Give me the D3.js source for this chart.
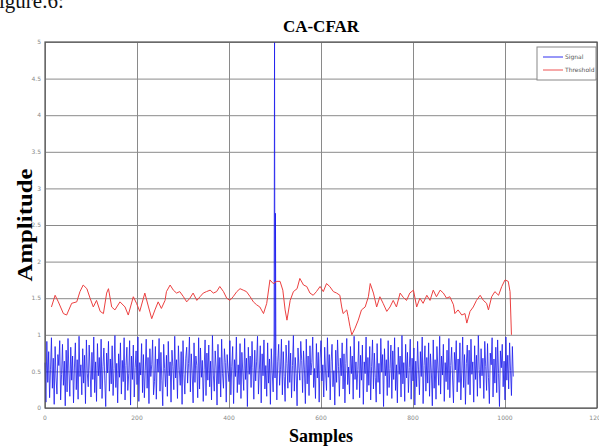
<!DOCTYPE html>
<html lang="en">
<head>
  <meta charset="UTF-8">
  <title>CA-CFAR</title>
  <style>
    html, body { margin: 0; padding: 0; background: #fff; overflow: hidden; }
    svg { display: block; }
  </style>
</head>
<body>

  <svg id="svg" width="599" height="448"></svg>

  <script src="https://d3js.org/d3.v7.min.js"></script>
  <script>
    // axis ticks
    const xTicks = [0, 200, 400, 600, 800, 1000, 1200]
    const xTickLabels = ['0', '200', '400', '600', '800', '1000', '1200']
    const yTicks = [0, 0.5, 1, 1.5, 2, 2.5, 3, 3.5, 4, 4.5, 5]
    const yTickLabels = ['0', '0.5', '1', '1.5', '2', '2.5', '3', '3.5', '4', '4.5', '5']

    // signal, one value every 2 samples
    const sampleStep = 2
    const signalValues = [
      .62,.08,.91,.35,.77,.14,.53,.96,.27,.68,.05,.84,.41,.19,.73,.58,.92,.11,.46,.87,
      .31,.64,.03,.79,.22,.95,.49,.16,.83,.38,.71,.07,.56,.89,.25,.66,.12,.98,.43,.59,
      .18,.81,.34,.72,.06,.93,.47,.29,.86,.52,.15,.76,.39,.97,.21,.63,.09,.88,.44,.69,
      .26,.94,.13,.57,.82,.37,.02,.75,.48,.91,.23,.67,.33,.85,.17,.54,.99,.28,.61,.07,
      .74,.42,.89,.19,.65,.36,.96,.11,.58,.83,.24,.47,.92,.04,.71,.39,.86,.15,.55,.78,
      .32,.97,.09,.62,.45,.88,.21,.73,.14,.51,.94,.27,.69,.06,.81,.43,.59,.93,.18,.36,
      .84,.12,.67,.49,.95,.23,.76,.38,.03,.87,.54,.29,.72,.16,.91,.44,.63,.08,.79,.57,
      .25,.98,.41,.66,.13,.85,.52,.31,.77,.05,.92,.46,.19,.68,.83,.34,.61,.97,.22,.74,
      .48,.07,.89,.35,.71,.58,.14,.96,.26,.82,.42,.65,.09,.53,.93,.17,.75,.38,.86,.29,
      .64,.11,.99,.45,.23,.78,.56,.04,.87,.33,.69,.15,.94,.47,.27,.81,.62,.08,.73,.51,
      .36,.92,.18,.57,.84,.06,.66,.43,.97,.21,.59,.32,.88,.13,.76,.49,.24,.95,.39,.68,
      .02,.83,.46,.71,.28,.91,.55,.12,.79,.37,.63,.98,.19,.52,.85,.07,.74,.44,.93,.26,
      .58,.16,.89,.34,.67,.05,.81,.48,.22,.96,.41,.72,.11,.64,.87,.31,.53,.94,.18,.77,
      .43,.09,.86,.61,.27,.92,.35,.75,.14,.58,.99,.23,.69,.47,.03,.82,.56,.38,.91,.65,
      .21,.78,.52,.06,.94,.33,.71,.17,.85,.45,.62,.97,.28,.54,.13,.88,.41,.76,.08,.67,
      .92,.37,.59,.15,.83,.49,.24,.96,.42,.73,.11,.64,.87,.29,.51,.04,.79,.35,.93,.57,
      .16,.68,.44,.89,.26,.74,.07,.61,.95,.32,.56,.19,.84,.47,.71,.12,.98,.39,.63,.25,
      .53,.91,.14,.72,.38,.86,.05,.63,.47,.97,.22,.69,.31,.84,.11,.57,.93,.26,.75,.42,
      .08,.88,.35,.61,.19,.95,.49,.73,.02,.81,.44,.66,.17,.92,.28,.54,.86,.13,.78,.39,
      .96,.24,.59,.07,.83,.46,.71,.15,.99,.33,.62,.09,.87,.41,.76,.21,.55,.94,.12,.68,
      .37,.82,.04,.64,.29,.91,.52,.18,.77,.43,.97,.06,.58,.85,.23,.69,.34,.89,.16,.74,
      .48,.03,.93,.27,.66,.12,.84,.56,.31,.98,.19,.71,.45,.87,.09,.62,.36,.79,.25,.95,
      .14,.58,.83,.41,.07,.76,.52,.92,.22,.67,.35,.89,.11,.49,.97,.28,.73,.05,.61,.86,
      .32,.79,.18,.94,.46,.63,.08,.85,.39,.72,.16,.99,.53,.27,.81,.44,.68,.13,.91,.57,
      .24,.88,.42,.06,.75,.59,.96,.15,.67,.34,.83,.21,.93,.47,.02,.78,.55,.87,.29,.64,
      .11,.97,.38,.72,.26,.89,.51,.17,.84,.43
    ]
    // target
    const spikeSamples = [499, 501]
    const spikeValues = [5.0, 2.66]

    // CFAR threshold
    const thresholdSamples = [
      14, 22, 29, 40, 47, 58, 69, 76, 83, 91, 98, 105, 112, 120, 127, 134, 138, 145, 152, 163,
      174, 181, 192, 199, 206, 217, 225, 232, 239, 246, 253, 261, 264, 272, 279, 286, 293, 301, 308, 315,
      322, 330, 337, 344, 351, 359, 366, 373, 380, 388, 395, 402, 409, 417, 424, 431, 438, 446, 453, 460,
      467, 475, 482, 489, 496, 504, 511, 517, 522, 526, 533, 540, 548, 554, 562, 569, 576, 583, 590, 598,
      605, 612, 619, 627, 634, 641, 645, 648, 656, 659, 663, 667, 674, 681, 688, 696, 703, 707, 714, 721,
      728, 735, 743, 750, 757, 764, 772, 779, 786, 793, 801, 808, 815, 822, 830, 837, 844, 851, 859, 866,
      873, 880, 888, 891, 898, 906, 913, 917, 924, 931, 938, 946, 953, 960, 964, 971, 978, 986, 993, 1000,
      1007, 1011, 1014
    ]
    const thresholdValues = [
      1.38, 1.54, 1.45, 1.29, 1.27, 1.43, 1.45, 1.59, 1.68, 1.63, 1.50, 1.38, 1.47, 1.32, 1.29, 1.57, 1.63, 1.38, 1.34, 1.45,
      1.38, 1.27, 1.52, 1.43, 1.32, 1.57, 1.38, 1.22, 1.34, 1.45, 1.36, 1.47, 1.59, 1.68, 1.61, 1.57, 1.59, 1.52, 1.45, 1.50,
      1.57, 1.47, 1.52, 1.57, 1.59, 1.61, 1.57, 1.59, 1.66, 1.59, 1.50, 1.47, 1.52, 1.59, 1.63, 1.61, 1.59, 1.52, 1.45, 1.41,
      1.38, 1.29, 1.43, 1.75, 1.70, 1.73, 1.73, 1.61, 1.34, 1.20, 1.47, 1.59, 1.63, 1.77, 1.68, 1.66, 1.57, 1.54, 1.59, 1.66,
      1.59, 1.70, 1.66, 1.59, 1.57, 1.54, 1.38, 1.29, 1.34, 1.25, 1.11, 1.00, 1.09, 1.20, 1.34, 1.38, 1.52, 1.70, 1.57, 1.38,
      1.52, 1.43, 1.32, 1.38, 1.47, 1.38, 1.57, 1.51, 1.47, 1.57, 1.61, 1.38, 1.50, 1.43, 1.54, 1.47, 1.61, 1.52, 1.61, 1.57,
      1.50, 1.52, 1.41, 1.29, 1.34, 1.27, 1.29, 1.16, 1.32, 1.38, 1.47, 1.54, 1.47, 1.43, 1.34, 1.52, 1.59, 1.54, 1.66, 1.75,
      1.73, 1.59, 1.00
    ]

    const plotLeft = 45, plotRight = 597, plotTop = 42, plotBottom = 408

    const x = d3.scaleLinear().domain([0, 1200]).range([plotLeft, plotRight])
    const y = d3.scaleLinear().domain([0, 5]).range([plotBottom, plotTop])

    const svg = d3.select('#svg')

    // signal points, noise + target merged in sample order
    const signal = signalValues.map((v, i) => ({ s: i * sampleStep, v: v }))
      .concat(spikeSamples.map((s, i) => ({ s: s, v: spikeValues[i] })))
      .sort((a, b) => a.s - b.s)
    const threshold = thresholdSamples.map((s, i) => ({ s: s, v: thresholdValues[i] }))

    // grid
    svg.append('g')
      .attr('transform', `translate(0,${plotBottom})`)
      .call(d3.axisBottom(x).tickValues(xTicks).tickSize(-(plotBottom - plotTop)).tickFormat(''))
      .call(g => g.select('.domain').remove())
      .call(g => g.selectAll('line').attr('stroke', '#8a8a8a').attr('stroke-width', 1))
    svg.append('g')
      .attr('transform', `translate(${plotLeft},0)`)
      .call(d3.axisLeft(y).tickValues(yTicks).tickSize(-(plotRight - plotLeft)).tickFormat(''))
      .call(g => g.select('.domain').remove())
      .call(g => g.selectAll('line').attr('stroke', '#8a8a8a').attr('stroke-width', 1))

    // tick labels
    svg.append('g').selectAll('text')
      .data(xTicks)
      .join('text')
      .attr('x', d => x(d))
      .attr('y', plotBottom + 12)
      .attr('text-anchor', 'middle')
      .attr('font-family', 'DejaVu Sans, sans-serif')
      .attr('font-size', 6)
      .attr('fill', '#888')
      .text((d, i) => xTickLabels[i])
    svg.append('g').selectAll('text')
      .data(yTicks)
      .join('text')
      .attr('x', plotLeft - 4)
      .attr('y', d => y(d))
      .attr('dy', '0.35em')
      .attr('text-anchor', 'end')
      .attr('font-family', 'DejaVu Sans, sans-serif')
      .attr('font-size', 6)
      .attr('fill', '#888')
      .text((d, i) => yTickLabels[i])

    // lines
    const line = d3.line().x(d => x(d.s)).y(d => y(d.v))
    svg.append('path')
      .datum(signal)
      .attr('d', line)
      .attr('fill', 'none')
      .attr('stroke', '#1a1aee')
      .attr('stroke-width', 0.8)
    svg.append('path')
      .datum(threshold)
      .attr('d', line)
      .attr('fill', 'none')
      .attr('stroke', '#ec4040')
      .attr('stroke-width', 1)

    // frame
    svg.append('rect')
      .attr('x', plotLeft).attr('y', plotTop)
      .attr('width', plotRight - plotLeft).attr('height', plotBottom - plotTop)
      .attr('fill', 'none')
      .attr('stroke', '#555')
      .attr('stroke-width', 1.2)

    // legend
    const legendNames = ['Signal', 'Threshold']
    const legendColors = ['#1a1aee', '#ec4040']
    const lg = svg.append('g')
    lg.append('rect')
      .attr('x', 537).attr('y', 47).attr('width', 59).attr('height', 33)
      .attr('fill', '#fff').attr('stroke', '#888').attr('stroke-width', 1)
    legendNames.forEach((n, i) => {
      lg.append('line')
        .attr('x1', 543).attr('x2', 563)
        .attr('y1', 57 + i * 13).attr('y2', 57 + i * 13)
        .attr('stroke', legendColors[i]).attr('stroke-width', 0.9)
      lg.append('text')
        .attr('x', 565).attr('y', 57 + i * 13).attr('dy', '0.35em')
        .attr('font-family', 'DejaVu Sans, sans-serif')
        .attr('font-size', 6)
        .attr('fill', '#555')
        .text(n)
    })

    // titles
    svg.append('text')
      .attr('x', (plotLeft + plotRight) / 2).attr('y', 32)
      .attr('text-anchor', 'middle')
      .attr('font-family', 'Liberation Serif, serif')
      .attr('font-weight', 'bold')
      .attr('font-size', 17)
      .text('CA-CFAR')
    svg.append('text')
      .attr('x', (plotLeft + plotRight) / 2).attr('y', 442)
      .attr('text-anchor', 'middle')
      .attr('font-family', 'Liberation Serif, serif')
      .attr('font-weight', 'bold')
      .attr('font-size', 18)
      .text('Samples')
    svg.append('text')
      .attr('transform', `translate(32,${(plotTop + plotBottom) / 2}) rotate(-90)`)
      .attr('text-anchor', 'middle')
      .attr('font-family', 'Liberation Serif, serif')
      .attr('font-weight', 'bold')
      .attr('font-size', 21)
      .attr('textLength', 113)
      .attr('lengthAdjust', 'spacingAndGlyphs')
      .text('Amplitude')

    // caption cut off at the top of the page
    svg.append('text')
      .attr('x', -8).attr('y', 8)
      .attr('font-family', 'Liberation Serif, serif')
      .attr('font-size', 21)
      .attr('fill', '#111')
      .text('figure.6:')
  </script>
</body>
</html>
